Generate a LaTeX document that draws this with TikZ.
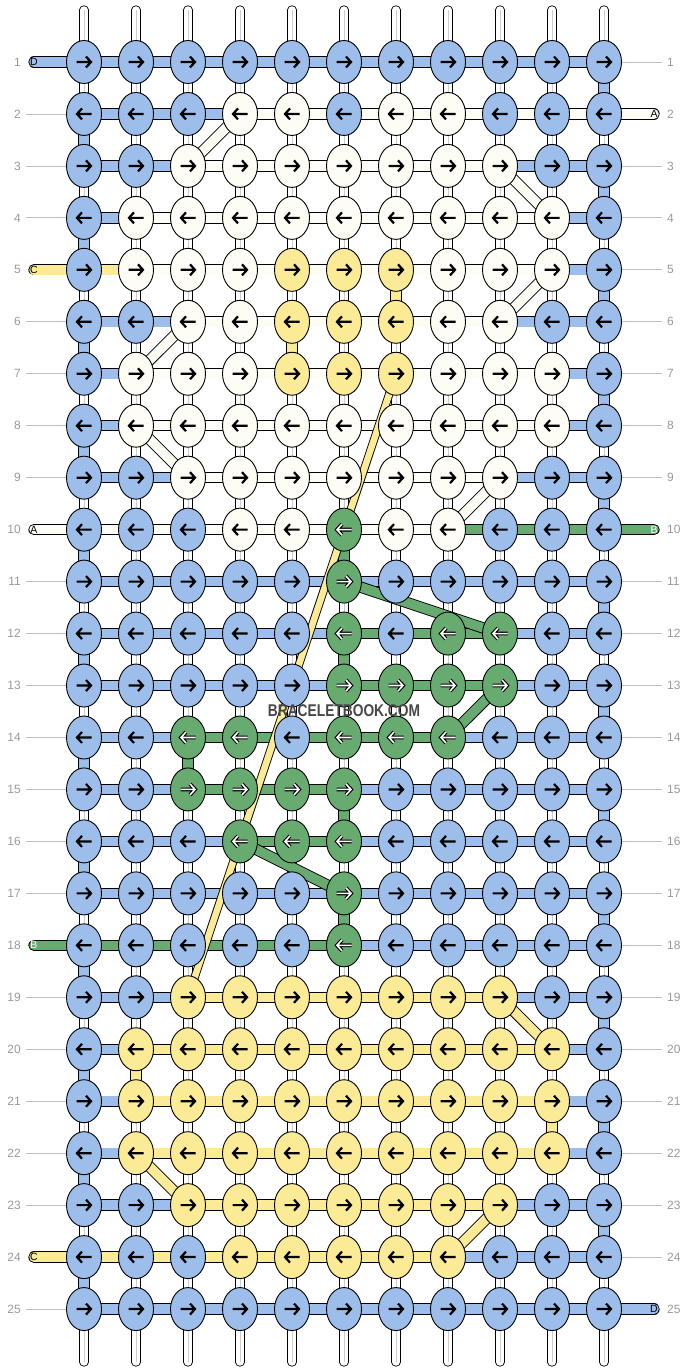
\documentclass[tikz,border=0pt]{standalone}
\usepackage{fontspec}
\setmainfont{Liberation Sans}
\usetikzlibrary{shapes.geometric}

\definecolor{cb}{HTML}{9DBEEA}
\definecolor{cw}{HTML}{FDFDF6}
\definecolor{cy}{HTML}{FBEB97}
\definecolor{cg}{HTML}{68AB71}
\definecolor{numgray}{HTML}{999999}

\pgfdeclarelayer{strands}
\pgfsetlayers{strands,main}

\tikzset{
  knot/.style={ellipse, draw=black, line width=0.9pt, minimum width=35pt, minimum height=43pt, inner sep=0pt},
  band/.style={draw=black, line width=0.9pt, double=#1, double distance=9.5pt},
  warp/.style={draw=black, line width=0.9pt, double=white, double distance=7.5pt, line cap=round},
  guide/.style={draw=black!25, line width=0.8pt},
  rownum/.style={text=numgray, font=\fontsize{12}{12}\selectfont, inner sep=0pt},
  tag/.style={font=\fontsize{10.5}{10.5}\selectfont, inner sep=0pt},
  arr b/.style={draw=black, line width=2.2pt},
  arr w/.style={arr b},
  arr y/.style={arr b},
  arr g/.style={draw=white, line width=1.6pt, preaction={draw=black, line width=3.8pt}},
  pics/knotarrow/.style={code={\path[#1, line join=miter] (-7.5,0) -- (7,0) (2,-5.5) -- (7,0) -- (2,5.5);}},
}

\begin{document}
\begin{tikzpicture}[x=1pt, y=-1pt]
	\useasboundingbox (0,0) rectangle (688,1372);
	
	% Knots, row by row (odd rows point right, even rows left)
	\foreach \r/\row in {
		1/{b,b,b,b,b,b,b,b,b,b,b},
		2/{b,b,b,w,w,b,w,w,b,b,b},
		3/{b,b,w,w,w,w,w,w,w,b,b},
		4/{b,w,w,w,w,w,w,w,w,w,b},
		5/{b,w,w,w,y,y,y,w,w,w,b},
		6/{b,b,w,w,y,y,y,w,w,b,b},
		7/{b,w,w,w,y,y,y,w,w,w,b},
		8/{b,w,w,w,w,w,w,w,w,w,b},
		9/{b,b,w,w,w,w,w,w,w,b,b},
		10/{b,b,b,w,w,g,w,w,b,b,b},
		11/{b,b,b,b,b,g,b,b,b,b,b},
		12/{b,b,b,b,b,g,b,g,g,b,b},
		13/{b,b,b,b,b,g,g,g,g,b,b},
		14/{b,b,g,g,b,g,g,g,b,b,b},
		15/{b,b,g,g,g,g,b,b,b,b,b},
		16/{b,b,b,g,g,g,b,b,b,b,b},
		17/{b,b,b,b,b,g,b,b,b,b,b},
		18/{b,b,b,b,b,g,b,b,b,b,b},
		19/{b,b,y,y,y,y,y,y,y,b,b},
		20/{b,y,y,y,y,y,y,y,y,y,b},
		21/{b,y,y,y,y,y,y,y,y,y,b},
		22/{b,y,y,y,y,y,y,y,y,y,b},
		23/{b,b,y,y,y,y,y,y,y,b,b},
		24/{b,b,b,y,y,y,y,y,b,b,b},
		25/{b,b,b,b,b,b,b,b,b,b,b}} {
		\pgfmathsetmacro{\s}{ifthenelse(isodd(\r),1,-1)}
		\foreach \c [count=\j] in \row {
			\node[knot, fill=c\c] (k\r-\j) at ({84+52*(\j-1)}, {62+51.96*(\r-1)}) {};
			\pic[xscale=\s] at (k\r-\j) {knotarrow={arr \c}};
		}
	}
	
	\begin{pgfonlayer}{strands}
		% vertical threads
		\foreach \j in {1,...,11} {
			\coordinate (top\j) at ({84+52*(\j-1)}, 10);
			\coordinate (bot\j) at ({84+52*(\j-1)}, 1362);
			\draw[warp] (top\j) -- (bot\j);
			\draw[black!20, line width=1pt] (top\j) -- (bot\j);
		}
		
		% turns of the working threads
		\foreach \r in {1,3,...,23} {
			\pgfmathtruncatemacro{\n}{\r+1}
			\draw[band=cb] (k\r-11.center) -- (k\n-11.center);
		}
		\foreach \r in {2,4,...,24} {
			\pgfmathtruncatemacro{\n}{\r+1}
			\draw[band=cb] (k\r-1.center) -- (k\n-1.center);
		}
		\foreach \r/\j/\c in {5/7/y, 6/5/y, 20/2/y, 21/10/y, 10/6/g, 12/6/g, 14/3/g, 15/6/g, 17/6/g} {
			\pgfmathtruncatemacro{\n}{\r+1}
			\draw[band=c\c] (k\r-\j.center) -- (k\n-\j.center);
		}
		
		% horizontal threads between knots
		\foreach \r/\row in {
			1/{b,b,b,b,b,b,b,b,b,b},
			2/{b,b,b,w,w,w,w,w,w,w},
			3/{b,b,w,w,w,w,w,w,b,b},
			4/{b,w,w,w,w,w,w,w,w,b},
			5/{y,w,w,w,w,w,w,w,w,b},
			6/{b,b,w,w,w,w,w,w,b,b},
			7/{b,w,w,w,w,w,w,w,w,b},
			8/{b,w,w,w,w,w,w,w,w,b},
			9/{b,b,w,w,w,w,w,w,b,b},
			10/{w,w,w,w,w,w,w,g,g,g},
			11/{b,b,b,b,b,b,b,b,b,b},
			12/{b,b,b,b,b,g,g,g,b,b},
			13/{b,b,b,b,b,g,g,g,b,b},
			14/{b,b,g,g,g,g,g,b,b,b},
			15/{b,b,g,g,g,b,b,b,b,b},
			16/{b,b,b,g,g,b,b,b,b,b},
			17/{b,b,b,b,b,b,b,b,b,b},
			18/{g,g,g,g,g,b,b,b,b,b},
			19/{b,b,y,y,y,y,y,y,b,b},
			20/{b,y,y,y,y,y,y,y,y,b},
			21/{b,y,y,y,y,y,y,y,y,b},
			22/{b,y,y,y,y,y,y,y,y,b},
			23/{b,b,y,y,y,y,y,y,b,b},
			24/{y,y,y,y,y,y,y,b,b,b},
			25/{b,b,b,b,b,b,b,b,b,b}} {
			\foreach \c [count=\j] in \row {
				\pgfmathtruncatemacro{\n}{\j+1}
				\draw[band=c\c] (k\r-\j.center) -- (k\r-\n.center);
			}
		}
		
		% loose ends with their letters
		\foreach \r/\c/\lab/\tc in {1/b/D/black, 5/y/C/black, 10/w/A/black, 18/g/B/white, 24/y/C/black} {
			\coordinate (tl\r) at ([xshift=-50pt]k\r-1.center);
			\draw[band=c\c, line cap=round] (tl\r) -- (k\r-1.center);
			\node[tag, text=\tc] (ltag\r) at (tl\r) {\lab};
		}
		\foreach \r/\c/\lab/\tc in {2/w/A/black, 10/g/B/white, 25/b/D/black} {
			\coordinate (tr\r) at ([xshift=50pt]k\r-11.center);
			\draw[band=c\c, line cap=round] (k\r-11.center) -- (tr\r);
			\node[tag, text=\tc] (rtag\r) at (tr\r) {\lab};
		}
		
		% row numbers
		\foreach \r in {1,...,25} {
			\node[rownum, anchor=east] (ln\r) at (21, {62+51.96*(\r-1)}) {\r};
			\node[rownum, anchor=west] (rn\r) at (667, {62+51.96*(\r-1)}) {\r};
		}
		\foreach \r in {2,3,4,6,7,8,9,11,12,13,14,15,16,17,19,20,21,22,23,25}
			\draw[guide] (ln\r.east) ++(5pt,0) -- (k\r-1);
		\foreach \r in {1,3,4,5,6,7,8,9,11,12,13,14,15,16,17,18,19,20,21,22,23,24}
			\draw[guide] (k\r-11) -- ([xshift=-5pt]rn\r.west);
		
		% diagonal passes
		\foreach \a/\p/\b/\q/\c in {2/4/3/3/w, 3/9/4/10/w, 5/10/6/9/w, 6/3/7/2/w, 8/2/9/3/w, 9/9/10/8/w,
			19/9/20/10/y, 22/2/23/3/y, 23/9/24/8/y, 11/6/12/9/g, 13/9/14/8/g, 16/4/17/6/g}
			\draw[band=c\c] (k\a-\p.center) -- (k\b-\q.center);
		\draw[band=cy, double distance=6.5pt] (k7-7.center) -- (k19-3.center);
	\end{pgfonlayer}
	
	% watermark
	\node[text=black!72, font=\fontsize{17}{17}\selectfont\bfseries, xscale=0.81, inner sep=0pt] (mark) at (344,711) {BRACELETBOOK.COM};
\end{tikzpicture}
\end{document}
